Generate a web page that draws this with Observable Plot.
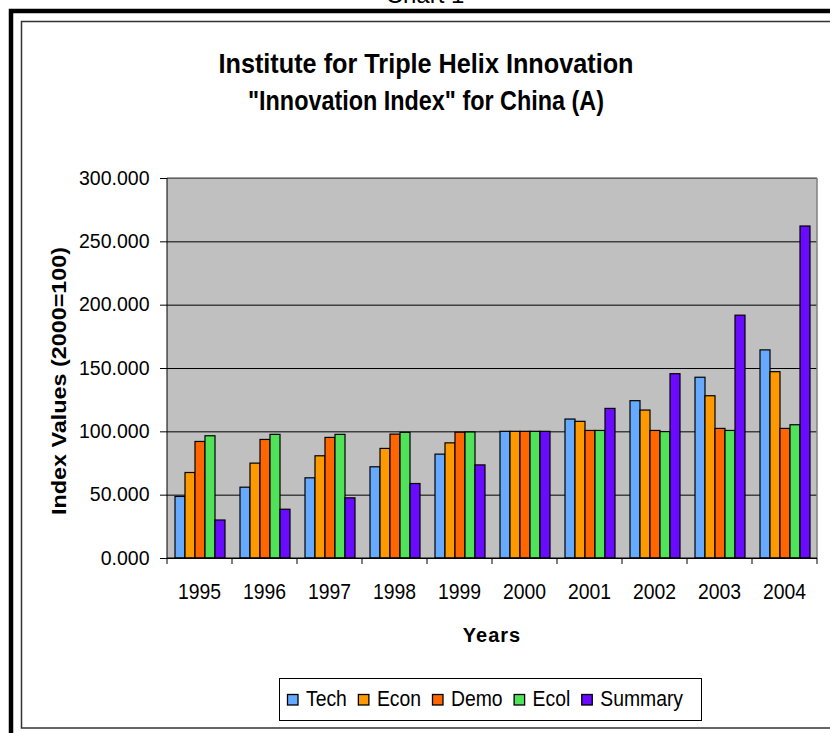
<!DOCTYPE html>
<html><head><meta charset="utf-8">
<script src="https://cdn.jsdelivr.net/npm/d3@7"></script>
<script src="https://cdn.jsdelivr.net/npm/@observablehq/plot@0.6"></script>
<style>body{margin:0;background:#fff;overflow:hidden}</style>
</head><body><div id="chart"></div>
<script>
const years = ["1995","1996","1997","1998","1999","2000","2001","2002","2003","2004"];
const series = ["Tech","Econ","Demo","Ecol","Summary"];
const colors = ["#66aaff","#ff9900","#ff6600","#50e35a","#6a0aff"];
const tech    = [48.6, 55.9, 63.3, 72.0, 82.0, 100, 109.7, 124.2, 142.7, 164.3];
const econ    = [67.5, 74.9, 80.7, 86.5, 90.9, 100, 107.9, 116.8, 128.1, 147.1];
const demo    = [92.0, 93.6, 95.2, 97.8, 99.3, 100, 100.7, 100.7, 102.3, 102.3];
const ecol    = [96.5, 97.6, 97.6, 99.2, 99.5, 100, 100.7, 99.8, 100.7, 105.2];
const summary = [30.0, 38.5, 47.5, 58.8, 73.5, 100, 118.1, 145.5, 191.7, 262.1];
const yTicks = [0, 50, 100, 150, 200, 250, 300];
const titleLines = ["Institute for Triple Helix Innovation", "\"Innovation Index\" for China (A)"];
const xLabel = "Years";
const yLabel = "Index Values (2000=100)";
const chartName = "Chart 1";

const values = [tech, econ, demo, ecol, summary];
const rows = years.flatMap((yr, i) => series.map((s, j) => ({year: yr, series: s, value: values[j][i]})));

const font = "'Liberation Sans', Arial, sans-serif";
const chart = Plot.plot({
  width: 830, height: 733,
  marginLeft: 167, marginRight: 13, marginTop: 178, marginBottom: 175,
  style: {fontFamily: font, fontSize: "19.5px", background: "white", color: "black", overflow: "visible"},
  facet: {data: rows, x: "year", label: null},
  fx: {domain: years, paddingInner: 0, paddingOuter: 0, axis: null},
  x: {domain: series, paddingInner: 0, paddingOuter: 0.69, axis: null},
  y: {domain: [0, 300], ticks: yTicks, tickFormat: d3.format(".3f"), tickSize: 7, tickPadding: 11, label: null},
  color: {domain: series, range: colors},
  marks: [
    Plot.ruleY(yTicks, {stroke: "#000", strokeWidth: 1}),
    Plot.barY(rows, {x: "series", y: "value", fill: "series", stroke: "#000", strokeWidth: 1.2, insetLeft: 0, insetRight: 0})
  ]
});
document.getElementById("chart").appendChild(chart);

const svg = d3.select(chart);
const fx = chart.scale("fx");
const ys = chart.scale("y");
const bw = fx.bandwidth;
const x0 = fx.apply(years[0]);
const x1 = fx.apply(years[years.length - 1]) + bw;
const y0 = ys.apply(0), yTop = ys.apply(300);

// plot background (single rect behind everything)
svg.insert("rect", ":first-child").attr("x", x0).attr("y", yTop).attr("width", x1 - x0).attr("height", y0 - yTop).attr("fill", "#c0c0c0");

const g = svg.append("g").attr("text-anchor", "start");

// plot borders
g.append("line").attr("x1", x0).attr("x2", x1).attr("y1", yTop).attr("y2", yTop).attr("stroke", "#808080").attr("stroke-width", 1.5);
g.append("line").attr("x1", x1).attr("x2", x1).attr("y1", yTop).attr("y2", y0).attr("stroke", "#808080").attr("stroke-width", 1.5);
g.append("line").attr("x1", x0).attr("x2", x0).attr("y1", yTop).attr("y2", y0).attr("stroke", "#000").attr("stroke-width", 1);
g.append("line").attr("x1", x0).attr("x2", x1).attr("y1", y0).attr("y2", y0).attr("stroke", "#000").attr("stroke-width", 1);

// helper: text slightly condensed like the reference
function squeeze(t, f) {
  const w = t.node().getComputedTextLength();
  t.attr("textLength", w * f).attr("lengthAdjust", "spacingAndGlyphs");
  return w * f;
}

// category boundary ticks
[...years.map(yr => fx.apply(yr)), x1].forEach(x => {
  g.append("line").attr("x1", x).attr("x2", x).attr("y1", y0).attr("y2", y0 + 6).attr("stroke", "#000");
});
// year labels
years.forEach(yr => {
  const t = g.append("text").attr("x", fx.apply(yr) + bw / 2).attr("y", y0 + 41).attr("text-anchor", "middle")
    .attr("font-family", font).attr("font-size", 21.5).text(yr);
  squeeze(t, 0.9);
});
// axis titles
g.append("text").attr("x", (x0 + x1) / 2).attr("y", y0 + 84).attr("text-anchor", "middle")
  .attr("font-family", font).attr("font-size", 20).attr("font-weight", "bold").attr("letter-spacing", 1).text(xLabel);
g.append("text").attr("transform", `translate(65.5,381) rotate(-90)`).attr("text-anchor", "middle")
  .attr("font-family", font).attr("font-size", 20).attr("font-weight", "bold")
  .attr("textLength", 268).attr("lengthAdjust", "spacingAndGlyphs").text(yLabel);

// titles
const tl = [415, 356];
titleLines.forEach((t, i) => {
  g.append("text").attr("x", 426).attr("y", 72.5 + i * 37).attr("text-anchor", "middle")
    .attr("font-family", font).attr("font-size", 27).attr("font-weight", "bold")
    .attr("textLength", tl[i]).attr("lengthAdjust", "spacingAndGlyphs").text(t);
});
g.append("text").attr("x", 425).attr("y", 3).attr("text-anchor", "middle")
  .attr("font-family", font).attr("font-size", 24).text(chartName);

// frames
g.append("rect").attr("x", 11).attr("y", 11).attr("width", 900).attr("height", 900).attr("fill", "none").attr("stroke", "#000").attr("stroke-width", 4.5);
g.append("rect").attr("x", 21.5).attr("y", 21.5).attr("width", 900).attr("height", 706.5).attr("fill", "none").attr("stroke", "#333").attr("stroke-width", 1.5);

// legend
const lg = g.append("g");
lg.append("rect").attr("x", 279.5).attr("y", 678.5).attr("width", 422).attr("height", 42).attr("fill", "white").attr("stroke", "#000");
let lx = 287.5;
series.forEach((s, i) => {
  lg.append("rect").attr("x", lx).attr("y", 694.5).attr("width", 10.5).attr("height", 10.5).attr("fill", colors[i]).attr("stroke", "#000").attr("stroke-width", 1.3);
  const t = lg.append("text").attr("x", lx + 18.5).attr("y", 705.5).attr("text-anchor", "start")
    .attr("font-family", font).attr("font-size", 21.5).text(s);
  const w = squeeze(t, 0.9);
  lx = lx + 18.5 + w + 11.5;
});
</script>
</body></html>
